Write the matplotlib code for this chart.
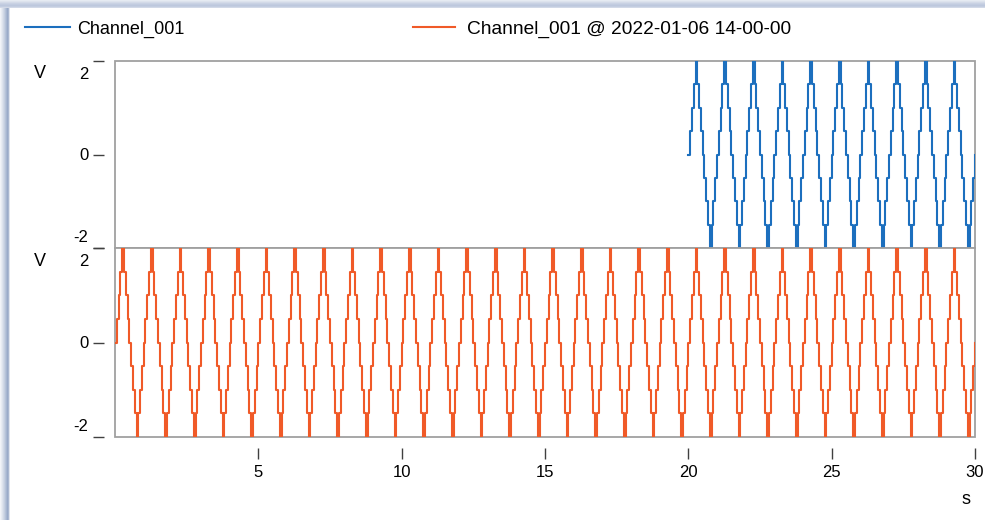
import numpy as np
import matplotlib.pyplot as plt
from matplotlib.patches import Rectangle
from matplotlib.transforms import ScaledTranslation

plt.rcParams['font.family'] = ['Liberation Sans', 'DejaVu Sans']

# one period (1 s) of the stepped triangle signal, 16 samples
period_levels = [0.0, 0.5, 1.0, 1.5, 2.0, 1.5, 1.0, 0.5,
                 0.0, -0.5, -1.0, -1.5, -2.0, -1.5, -1.0, -0.5]
dt = 1 / 16
blue_start, blue_periods = 20.0, 10
orange_start, orange_periods = 0.0, 30

blue_label = 'Channel_001'
orange_label = 'Channel_001 @ 2022-01-06 14-00-00'
blue_color = '#1c6fbe'
orange_color = '#f05a28'
x_ticks = [5, 10, 15, 20, 25, 30]
y_ticks = [-2, 0, 2]


def make_series(start, n_periods):
    vals = np.array(period_levels * n_periods + [period_levels[0]])
    t = start + np.arange(len(vals)) * dt
    return t, vals


t_blue, v_blue = make_series(blue_start, blue_periods)
t_orange, v_orange = make_series(orange_start, orange_periods)

W, H = 985, 520
fig = plt.figure(figsize=(W / 100, H / 100), dpi=100)

# window frame decoration
for i, c in enumerate(['#e6ebf2', '#dde3ed', '#d3dae8', '#c9d2e3', '#c2cce0', '#bdc8dd', '#c3cde0', '#d2d9e7']):
    fig.patches.append(Rectangle((0, 1 - (i + 1) / H), 1, 1 / H, transform=fig.transFigure,
                                 color=c, lw=0, zorder=-5))
for i, c in enumerate(['#f2f4f8', '#e8ecf3', '#dde3ed', '#d1d9e7', '#c5cfe0', '#b6c3d9', '#a8b7d1', '#9aabc9', '#aab8d1', '#dfe4ee']):
    fig.patches.append(Rectangle((i / W, 0), 1 / W, 1 - 8 / H, transform=fig.transFigure,
                                 color=c, lw=0, zorder=-5))

left = 115 / W
width = (975 - 115) / W
ax_top = fig.add_axes([left, 1 - 248 / H, width, 187 / H])
ax_bot = fig.add_axes([left, 1 - 437 / H, width, 189 / H])

ax_top.step(t_blue, v_blue, where='post', color=blue_color, lw=1.5)
ax_bot.step(t_orange, v_orange, where='post', color=orange_color, lw=1.5)

for ax in (ax_top, ax_bot):
    ax.set_xlim(0, 30)
    ax.set_ylim(-2, 2)
    for s in ax.spines.values():
        s.set_visible(False)
    ax.spines['left'].set_position(('outward', 8))
    ax.spines['bottom'].set_position(('outward', 8))
    ax.patch.set_edgecolor('#a0a0a0')
    ax.patch.set_linewidth(1.3)
    ax.set_yticks(y_ticks)
    ax.set_yticklabels([str(v) for v in y_ticks])
    ax.tick_params(axis='y', direction='out', length=8, width=1, color='#404040',
                   labelsize=12, pad=3)
    labels = ax.get_yticklabels()
    labels[0].set_va('bottom')
    labels[0].set_transform(labels[0].get_transform() + ScaledTranslation(0, 2 / 72, fig.dpi_scale_trans))
    labels[-1].set_va('top')
    labels[-1].set_transform(labels[-1].get_transform() + ScaledTranslation(0, -4 / 72, fig.dpi_scale_trans))

ax_top.set_xticks([])
ax_bot.set_xticks(x_ticks)
ax_bot.set_xticklabels([str(v) for v in x_ticks])
ax_bot.tick_params(axis='x', direction='out', length=8, width=1, color='#404040',
                   labelsize=12, pad=4)

fig.text(40 / W, 1 - 73 / H, 'V', fontsize=13, ha='center', va='center')
fig.text(40 / W, 1 - 261 / H, 'V', fontsize=13, ha='center', va='center')
fig.text(966 / W, 1 - 500 / H, 's', fontsize=13, ha='center', va='center')

h_blue, = ax_top.plot([], [], color=blue_color, lw=1.5)
h_orange, = ax_bot.plot([], [], color=orange_color, lw=1.5)
leg1 = fig.legend([h_blue], [blue_label], loc='center left', bbox_to_anchor=(25 / W, 1 - 29 / H),
                  frameon=False, fontsize=13, handlelength=2.5, handletextpad=0.4,
                  borderpad=0, borderaxespad=0)
leg2 = fig.legend([h_orange], [orange_label], loc='center left', bbox_to_anchor=(413 / W, 1 - 29 / H),
                  frameon=False, fontsize=13.8, handlelength=2.2, handletextpad=0.6,
                  borderpad=0, borderaxespad=0)

fig.savefig('out.png', dpi=100)
